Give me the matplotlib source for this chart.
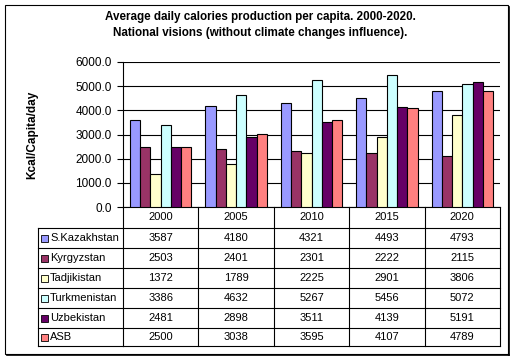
import numpy as np
import matplotlib.pyplot as plt
from matplotlib.patches import Rectangle
from matplotlib.transforms import blended_transform_factory

plt.rcParams['font.family'] = ['Liberation Sans', 'DejaVu Sans']

years = ['2000', '2005', '2010', '2015', '2020']
regions = ['S.Kazakhstan', 'Kyrgyzstan', 'Tadjikistan', 'Turkmenistan', 'Uzbekistan', 'ASB']
s_kazakhstan = [3587, 4180, 4321, 4493, 4793]
kyrgyzstan = [2503, 2401, 2301, 2222, 2115]
tadjikistan = [1372, 1789, 2225, 2901, 3806]
turkmenistan = [3386, 4632, 5267, 5456, 5072]
uzbekistan = [2481, 2898, 3511, 4139, 5191]
asb = [2500, 3038, 3595, 4107, 4789]
series = [s_kazakhstan, kyrgyzstan, tadjikistan, turkmenistan, uzbekistan, asb]
colors = ['#9999FF', '#993366', '#FFFFCC', '#CCFFFF', '#660066', '#FF8080']

W, H = 517, 363
fig = plt.figure(figsize=(W / 100, H / 100), dpi=100)

# full-figure overlay in pixel units for the border and the data table
tab = fig.add_axes([0, 0, 1, 1], zorder=0)
tab.set_xlim(0, W)
tab.set_ylim(H, 0)
tab.axis('off')

ax = fig.add_axes([123 / W, (H - 207) / H, (500 - 123) / W, (207 - 62) / H], zorder=1)
ax.patch.set_alpha(0)

x = np.arange(len(years))
bw = 0.136
for i, (vals, c) in enumerate(zip(series, colors)):
    ax.bar(x + (i - 2.5) * bw, vals, bw, color=c, edgecolor='black', linewidth=0.8, zorder=3)

ax.set_xlim(-0.5, len(years) - 0.5)
ax.set_ylim(0, 6000)
ax.set_yticks(np.arange(0, 6001, 1000))
ax.set_yticklabels([f'{v:.1f}' for v in np.arange(0, 6001, 1000)], fontsize=8.5)
ax.yaxis.grid(True, color='black', linewidth=0.8)
ax.set_axisbelow(True)
ax.set_xticks([])
ax.tick_params(axis='y', length=4, width=0.8, pad=4)
for s in ['top', 'right']:
    ax.spines[s].set_visible(False)
ax.spines['left'].set_linewidth(0.8)
ax.spines['bottom'].set_linewidth(0.8)

ax.set_ylabel('Kcal/Capita/day', fontsize=8.5, fontweight='bold', labelpad=27)

fig.text(260 / W, 1 - 17 / H, 'Average daily calories production per capita. 2000-2020.',
         ha='center', va='center', fontsize=8.4, fontweight='bold')
fig.text(260 / W, 1 - 33 / H, 'National visions (without climate changes influence).',
         ha='center', va='center', fontsize=8.4, fontweight='bold')

# data table below the plot, x from the bar axes, y in pixels
tr = blended_transform_factory(ax.transData, tab.transData)
rows_y = [228, 248, 268, 288, 308, 328, 346]
top_y = 207
lk = dict(color='black', linewidth=0.8, transform=tr, clip_on=False)
# header row
for j, yr in enumerate(years):
    tab.text(j, (top_y + rows_y[0]) / 2, yr, ha='center', va='center', fontsize=8, transform=tr)
for k in range(len(years) + 1):
    tab.plot([k - 0.5, k - 0.5], [top_y, rows_y[-1]], **lk)
tab.plot([-0.5, len(years) - 0.5], [rows_y[0], rows_y[0]], **lk)
# legend column edges in pixels
tab.plot([38, 123], [rows_y[0], rows_y[0]], color='black', linewidth=0.8)
tab.plot([38, 38], [rows_y[0], rows_y[-1]], color='black', linewidth=0.8)
for r in range(1, len(rows_y)):
    tab.plot([38, 123], [rows_y[r], rows_y[r]], color='black', linewidth=0.8)
    tab.plot([-0.5, len(years) - 0.5], [rows_y[r], rows_y[r]], **lk)

for r, (name, vals, c) in enumerate(zip(regions, series, colors)):
    yc = (rows_y[r] + rows_y[r + 1]) / 2
    tab.add_patch(Rectangle((41, yc - 3.5), 7, 7, facecolor=c, edgecolor='black', linewidth=0.6))
    tab.text(50, yc, name, ha='left', va='center', fontsize=8)
    for j, v in enumerate(vals):
        tab.text(j, yc, str(v), ha='center', va='center', fontsize=8, transform=tr)

# outer chart border with shadow
tab.add_patch(Rectangle((5, 5), 503, 349, fill=False, edgecolor='black', linewidth=0.8))
tab.plot([509, 509], [7, 355], color='black', linewidth=1.2)
tab.plot([7, 509], [355, 355], color='black', linewidth=1.2)

fig.savefig('out.png', dpi=100)
